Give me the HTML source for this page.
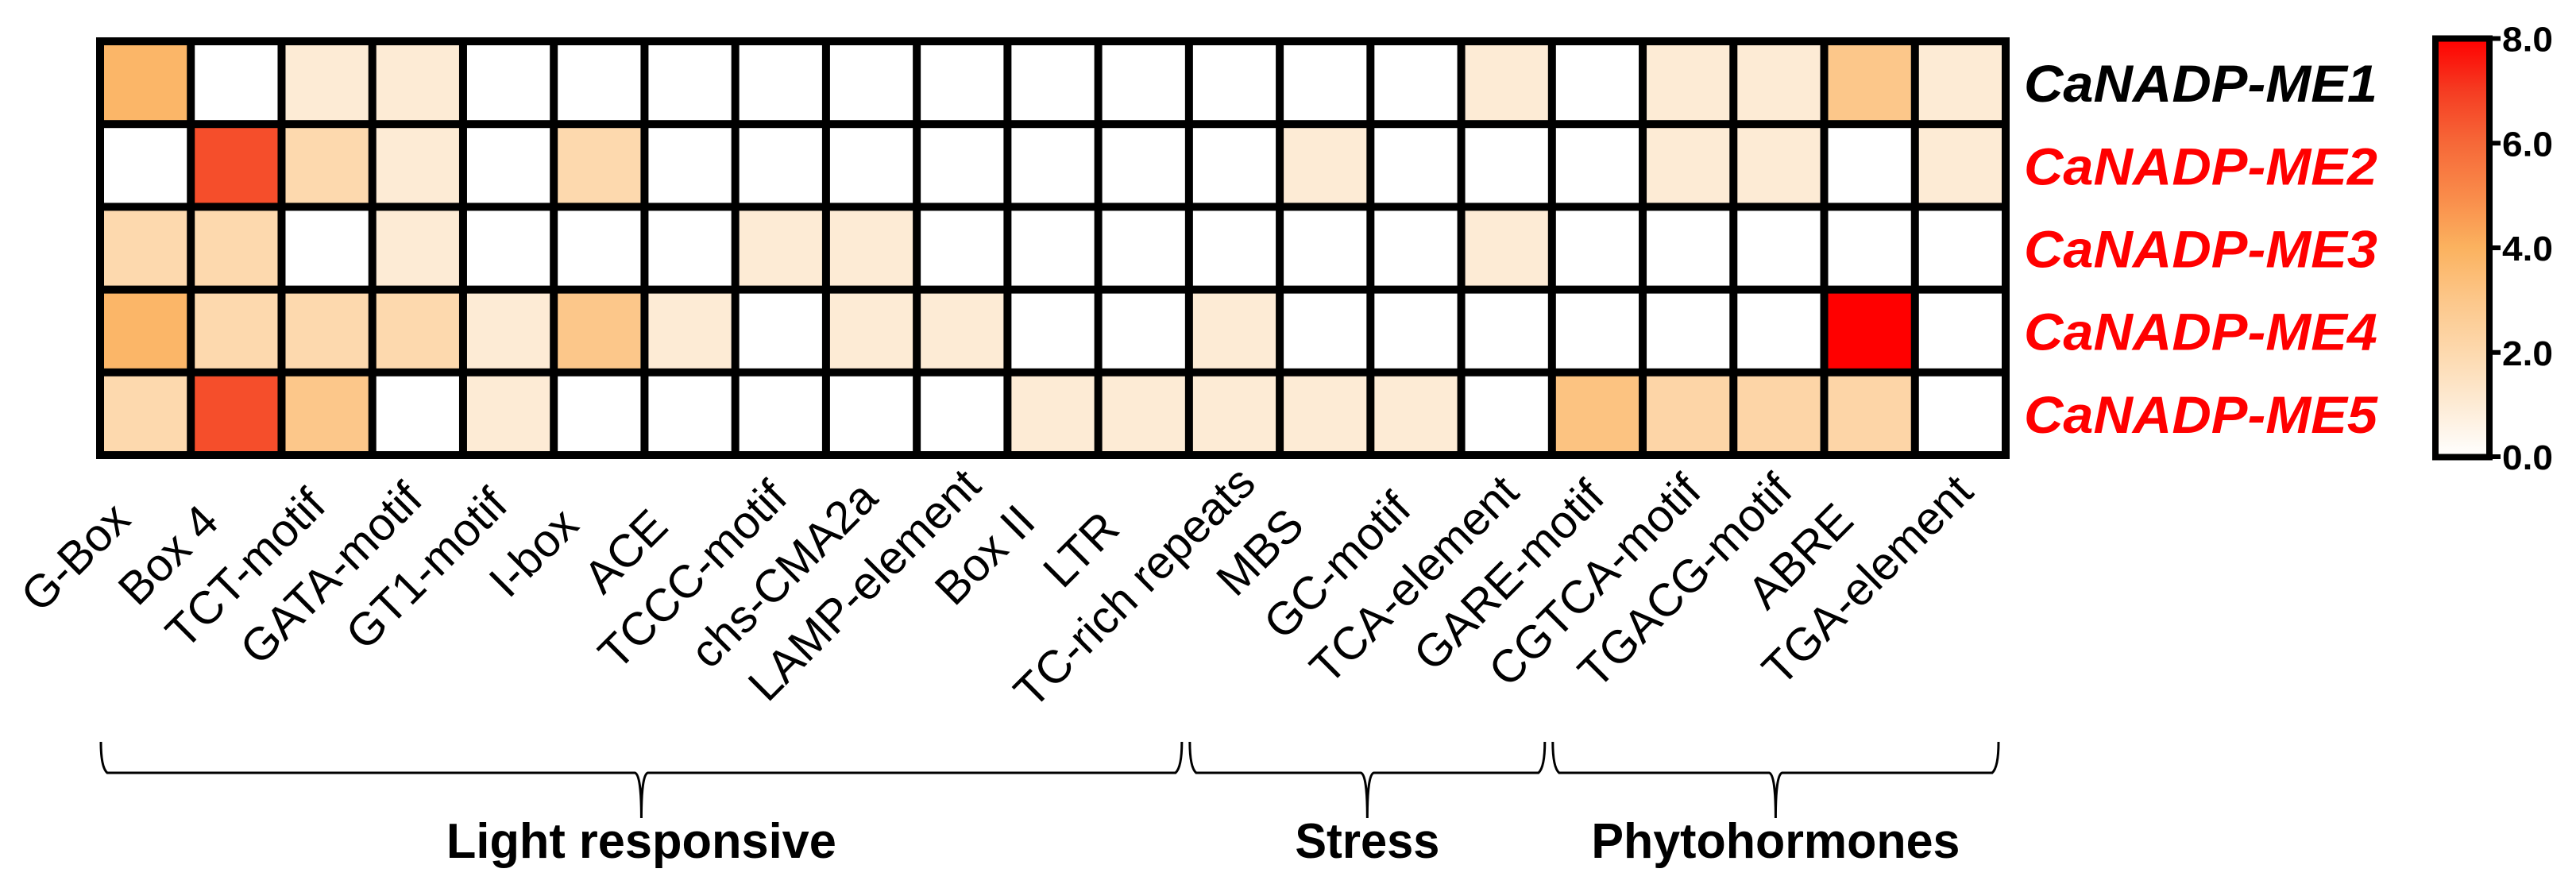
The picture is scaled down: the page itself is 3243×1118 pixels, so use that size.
<!DOCTYPE html>
<html><head><meta charset="utf-8"><style>
html,body{margin:0;padding:0;background:#fff;}
svg{display:block;font-family:"Liberation Sans",Arial,sans-serif;}
</style></head><body>
<svg id="chart" width="3243" height="1118" viewBox="0 0 3243 1118" xmlns="http://www.w3.org/2000/svg">
<defs>
<linearGradient id="cbar" x1="0" y1="1" x2="0" y2="0">
<stop offset="0" stop-color="#ffffff"/><stop offset="0.125" stop-color="#fdebd5"/><stop offset="0.25" stop-color="#fdd9ae"/><stop offset="0.375" stop-color="#fcc78a"/><stop offset="0.5" stop-color="#fbb25f"/><stop offset="0.625" stop-color="#f98b4a"/><stop offset="0.75" stop-color="#f66838"/><stop offset="0.875" stop-color="#f53c22"/><stop offset="1" stop-color="#ff0000"/>
</linearGradient>
</defs>
<g id="grid"></g>
<g id="xlabels"></g>
<g id="ylabels"></g>
<g id="braces"></g>
<g id="legend">
<rect x="3066" y="48.5" width="68" height="527" fill="url(#cbar)" stroke="#000" stroke-width="8"/>
</g>
</svg>
<script>
const categories = ["G-Box","Box 4","TCT-motif","GATA-motif","GT1-motif","I-box","ACE","TCCC-motif","chs-CMA2a","LAMP-element","Box II","LTR","TC-rich repeats","MBS","GC-motif","TCA-element","GARE-motif","CGTCA-motif","TGACG-motif","ABRE","TGA-element"];
const genes = ["CaNADP-ME1","CaNADP-ME2","CaNADP-ME3","CaNADP-ME4","CaNADP-ME5"];
const geneColors = ["#000000","#ff0000","#ff0000","#ff0000","#ff0000"];
const valuesME1 = [3.8,0,1,1,0,0,0,0,0,0,0,0,0,0,0,1,0,1,1,3,1];
const valuesME2 = [0,6.6,2,1,0,2,0,0,0,0,0,0,0,1,0,0,0,1,1,0,1];
const valuesME3 = [2,2,0,1,0,0,0,1,1,0,0,0,0,0,0,1,0,0,0,0,0];
const valuesME4 = [3.8,2,2,2,1,3,1,0,1,1,0,0,1,0,0,0,0,0,0,8,0];
const valuesME5 = [2,6.6,3,0,1,0,0,0,0,0,1,1,1,1,1,0,3.2,2.2,2.2,2.2,0];
const tickValues = [0,2,4,6,8];
const tickLabels = ["0.0","2.0","4.0","6.0","8.0"];
const groupNames = ["Light responsive","Stress","Phytohormones"];
const groupStart = [0,12,16];
const groupEnd = [11,15,20];

const NS="http://www.w3.org/2000/svg";
function mk(tag,attrs,parent){const e=document.createElementNS(NS,tag);for(const k in attrs)e.setAttribute(k,attrs[k]);parent.appendChild(e);return e;}
const rows=[valuesME1,valuesME2,valuesME3,valuesME4,valuesME5];
const L=121,R=2530,T=47,B=578,LW=10;
const px=(R-L-LW)/categories.length, py=(B-T-LW)/genes.length;
const xCol=i=>L+LW+i*px, yRow=j=>T+LW+j*py, xCenter=i=>L+LW/2+(i+0.5)*px;
const stops=[[255,255,255],[253,235,213],[253,217,174],[252,199,138],[251,178,95],[249,139,74],[246,104,56],[245,60,34],[255,0,0]];
function color(v){v=Math.max(0,Math.min(8,v));const i=Math.min(7,Math.floor(v)),f=v-i;const a=stops[i],b=stops[i+1];return "rgb("+a.map((c,k)=>Math.round(c+(b[k]-c)*f)).join(",")+")";}
const grid=document.getElementById('grid');
const bg=mk('rect',{x:L,y:T,width:R-L,height:B-T,fill:'#000'},grid);


rows.forEach((row,j)=>row.forEach((v,i)=>{
  const c=mk('rect',{x:xCol(i),y:yRow(j),width:px-LW,height:py-LW,fill:color(v)},grid);
  
  
}));
const xl=document.getElementById('xlabels');
categories.forEach((c,i)=>{
  const t=mk('text',{x:0,y:0,'text-anchor':'end','font-size':58,fill:'#000'},xl);
  t.textContent=c;
  
  
  let len=165;
  try{len=t.getComputedTextLength()||len;}catch(e){}
  const x=xCenter(i)-48+0.194*len, y=689-0.194*len;
  t.setAttribute('x',x);t.setAttribute('y',y);
  t.setAttribute('transform','rotate(-45 '+x+' '+y+')');
});
const yl=document.getElementById('ylabels');
genes.forEach((g,j)=>{
  const t=mk('text',{x:2548,y:yRow(j)+(py-LW)/2+24,'font-size':66,'font-weight':'bold','font-style':'italic',fill:geneColors[j],textLength:445,lengthAdjust:'spacingAndGlyphs'},yl);
  t.textContent=g;
  
  
});
const br=document.getElementById('braces');
const groupWidths=[491,182,464];
groupNames.forEach((n,k)=>{
  const x0=xCol(groupStart[k])-LW+6, x1=xCol(groupEnd[k])+px-LW-4, xm=(x0+x1)/2;
  const d='M'+x0+' 934 Q'+x0+' 966 '+(x0+8)+' 973 L'+(xm-8)+' 973 Q'+xm+' 976 '+xm+' 1030 Q'+xm+' 976 '+(xm+8)+' 973 L'+(x1-8)+' 973 Q'+x1+' 966 '+x1+' 934';
  const p=mk('path',{d:d,fill:'none',stroke:'#000','stroke-width':3},br);
  
  
  const t=mk('text',{x:xm,y:1080,'text-anchor':'middle','font-size':62,'font-weight':'bold',fill:'#000',textLength:groupWidths[k],lengthAdjust:'spacingAndGlyphs'},br);
  t.textContent=n;
  
  
});
const lg=document.getElementById('legend');
const cbY=v=>575.5-(v/8)*527;
tickValues.forEach((v,k)=>{
  const y=Math.min(575,Math.max(48,cbY(v)));
  const tk=mk('line',{x1:3138,x2:3148,y1:y,y2:y,stroke:'#000','stroke-width':6},lg);
  
  
  const t=mk('text',{x:3150,y:y+16,'font-size':44,'font-weight':'bold',fill:'#000',textLength:64,lengthAdjust:'spacingAndGlyphs'},lg);
  t.textContent=tickLabels[k];
  
  
});
</script>
</body></html>
